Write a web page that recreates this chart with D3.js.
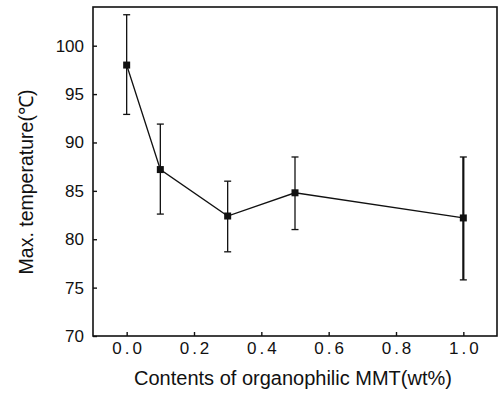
<!DOCTYPE html>
<html>
<head>
  <meta charset="utf-8">
  <style>
    html, body {
      margin: 0;
      padding: 0;
      background: #fff;
      width: 499px;
      height: 394px;
      overflow: hidden;
      font-family: "Liberation Sans", Arial, sans-serif;
    }
    svg { display: block; }
    .tick text { fill: #111; }
  </style>
</head>
<body>
  <svg width="499" height="394"></svg>

  <script src="https://d3js.org/d3.v7.min.js"></script>
  <script>
    // values
    const contents = [0.0, 0.1, 0.3, 0.5, 1.0];
    const maxTemp  = [98.0, 87.2, 82.4, 84.8, 82.2];
    const errHigh  = [103.2, 91.9, 86.0, 88.5, 88.5];
    const errLow   = [92.9, 82.6, 78.7, 81.0, 75.8];
    const xTicks = [0.0, 0.2, 0.4, 0.6, 0.8, 1.0];
    const yTicks = [70, 75, 80, 85, 90, 95, 100];

    const svg = d3.select("svg");
    const m = {left: 93, right: 497, top: 7, bottom: 336};

    const x = d3.scaleLinear().domain([-0.1, 1.1]).range([m.left, m.right]);
    const y = d3.scaleLinear().domain([70, 104]).range([m.bottom, m.top]);

    const pts = contents.map((c, i) => ({x: c, y: maxTemp[i], hi: errHigh[i], lo: errLow[i]}));

    // frame
    svg.append("rect")
      .attr("x", m.left).attr("y", m.top)
      .attr("width", m.right - m.left).attr("height", m.bottom - m.top)
      .attr("fill", "none").attr("stroke", "#111").attr("stroke-width", 1.6);

    // y axis, ticks inward
    const yAxis = svg.append("g")
      .attr("transform", `translate(${m.left},0)`)
      .call(d3.axisRight(y).tickValues(yTicks).tickSize(4).tickFormat(d3.format("d")));
    yAxis.select(".domain").remove();
    yAxis.selectAll(".tick line").attr("stroke", "#111").attr("stroke-width", 1.4);
    yAxis.selectAll(".tick text")
      .attr("x", -9).attr("text-anchor", "end")
      .attr("font-size", 17).attr("font-family", "Liberation Sans, Arial, sans-serif");

    // x axis, ticks inward
    const xAxis = svg.append("g")
      .attr("transform", `translate(0,${m.bottom})`)
      .call(d3.axisTop(x).tickValues(xTicks).tickSize(4).tickFormat(d3.format(".1f")));
    xAxis.select(".domain").remove();
    xAxis.selectAll(".tick line").attr("stroke", "#111").attr("stroke-width", 1.4);
    xAxis.selectAll(".tick text")
      .attr("y", 18).attr("dy", 0).attr("dx", 1.5)
      .attr("font-size", 17).attr("letter-spacing", 3)
      .attr("font-family", "Liberation Sans, Arial, sans-serif");

    // titles
    svg.append("text")
      .attr("x", 293).attr("y", 385)
      .attr("text-anchor", "middle")
      .attr("font-size", 20).attr("fill", "#111")
      .text("Contents of organophilic MMT(wt%)");

    svg.append("text")
      .attr("transform", "translate(33,182) rotate(-90)")
      .attr("text-anchor", "middle")
      .attr("font-size", 19.5).attr("fill", "#111")
      .text("Max. temperature(℃)");

    // error bars
    const eb = svg.append("g").attr("stroke", "#111");
    pts.forEach((d, i) => {
      const cx = x(d.x);
      const w = i === pts.length - 1 ? 2.2 : 1.3;
      eb.append("line").attr("x1", cx).attr("x2", cx).attr("y1", y(d.hi)).attr("y2", y(d.lo)).attr("stroke-width", w);
      eb.append("line").attr("x1", cx - 3.5).attr("x2", cx + 3.5).attr("y1", y(d.hi)).attr("y2", y(d.hi)).attr("stroke-width", 1.3);
      eb.append("line").attr("x1", cx - 3.5).attr("x2", cx + 3.5).attr("y1", y(d.lo)).attr("y2", y(d.lo)).attr("stroke-width", 1.3);
    });

    // line
    svg.append("path")
      .datum(pts)
      .attr("fill", "none").attr("stroke", "#111").attr("stroke-width", 1.3)
      .attr("d", d3.line().x(d => x(d.x)).y(d => y(d.y)));

    // square markers
    svg.append("g").selectAll("rect")
      .data(pts)
      .join("rect")
      .attr("x", d => x(d.x) - 3.5)
      .attr("y", d => y(d.y) - 3.5)
      .attr("width", 7).attr("height", 7)
      .attr("fill", "#111");
  </script>
</body>
</html>
